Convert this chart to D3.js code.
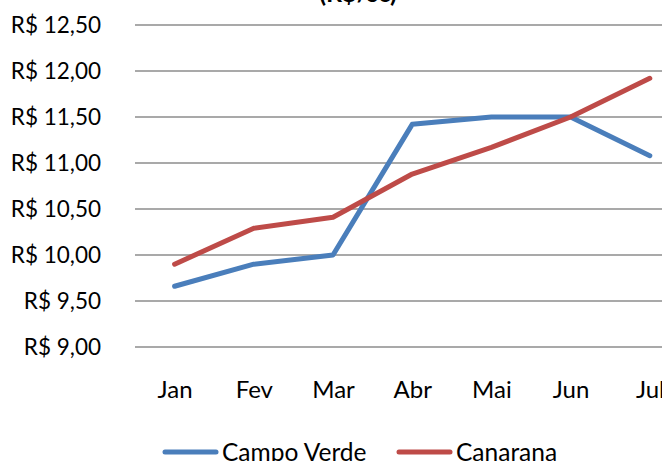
<!DOCTYPE html>
<html>
<head>
<meta charset="utf-8">
<script src="https://cdn.jsdelivr.net/npm/d3@7"></script>
<style>
  html, body { margin: 0; padding: 0; background: #fff; }
  svg { display: block; }
</style>
</head>
<body>
<svg id="svg" width="662" height="461"></svg>
<script>
const months = ["Jan", "Fev", "Mar", "Abr", "Mai", "Jun", "Jul"];
const campoVerde = [9.66, 9.90, 10.00, 11.42, 11.50, 11.50, 11.08];
const canarana = [9.90, 10.29, 10.41, 10.88, 11.17, 11.50, 11.92];
const yTicks = [9.0, 9.5, 10.0, 10.5, 11.0, 11.5, 12.0, 12.5];
const seriesNames = ["Campo Verde", "Canarana"];
const colors = ["#4a7ebb", "#be4b48"];

const font = "Lato, 'Open Sans', sans-serif";
const svg = d3.select("#svg");

// plot area runs off the right edge, like the cropped original
const left = 135, step = 79.2;
const x = d3.scalePoint()
    .domain(months)
    .range([left + step / 2, left + step / 2 + step * (months.length - 1)]);
const y = d3.scaleLinear().domain([9, 12.5]).range([347, 25]);

// title, only its lower part is in the frame
svg.append("text")
    .attr("x", 358)
    .attr("y", 2)
    .attr("text-anchor", "middle")
    .attr("font-family", font)
    .attr("font-weight", "bold")
    .attr("font-size", 25)
    .attr("fill", "#000")
    .text("(R$/sc)");

// horizontal gridlines
svg.append("g")
    .selectAll("line")
    .data(yTicks)
    .join("line")
    .attr("x1", left)
    .attr("x2", 700)
    .attr("y1", d => y(d))
    .attr("y2", d => y(d))
    .attr("stroke", "#8c8c8c")
    .attr("stroke-width", 1.5);

// y axis labels
const yAxis = svg.append("g")
    .attr("transform", "translate(116,0)")
    .call(d3.axisLeft(y).tickValues(yTicks).tickSize(0).tickPadding(15)
        .tickFormat(d => "R$ " + d3.format(".2f")(d).replace(".", ",")));
yAxis.select(".domain").remove();
yAxis.selectAll("text")
    .attr("font-family", font)
    .attr("font-size", 22.5)
    .attr("fill", "#000");

// x axis labels
const xAxis = svg.append("g")
    .attr("transform", "translate(0,347)")
    .call(d3.axisBottom(x).tickSize(0).tickPadding(34));
xAxis.select(".domain").remove();
xAxis.selectAll("text")
    .attr("font-family", font)
    .attr("font-size", 24)
    .attr("fill", "#000");

// lines
const line = d3.line()
    .x((d, i) => x(months[i]))
    .y(d => y(d));

svg.append("g")
    .selectAll("path")
    .data([campoVerde, canarana])
    .join("path")
    .attr("d", d => line(d))
    .attr("fill", "none")
    .attr("stroke", (d, i) => colors[i])
    .attr("stroke-width", 5)
    .attr("stroke-linejoin", "round")
    .attr("stroke-linecap", "round");

// legend
const legendX = [165, 399];
const legend = svg.append("g")
    .selectAll("g")
    .data(seriesNames)
    .join("g")
    .attr("transform", (d, i) => `translate(${legendX[i]},452)`);

legend.append("line")
    .attr("x1", 0)
    .attr("x2", 51)
    .attr("stroke", (d, i) => colors[i])
    .attr("stroke-width", 5)
    .attr("stroke-linecap", "round");

legend.append("text")
    .attr("x", 57)
    .attr("y", 9)
    .attr("font-family", font)
    .attr("font-size", 24.5)
    .attr("fill", "#000")
    .text(d => d);
</script>
</body>
</html>
